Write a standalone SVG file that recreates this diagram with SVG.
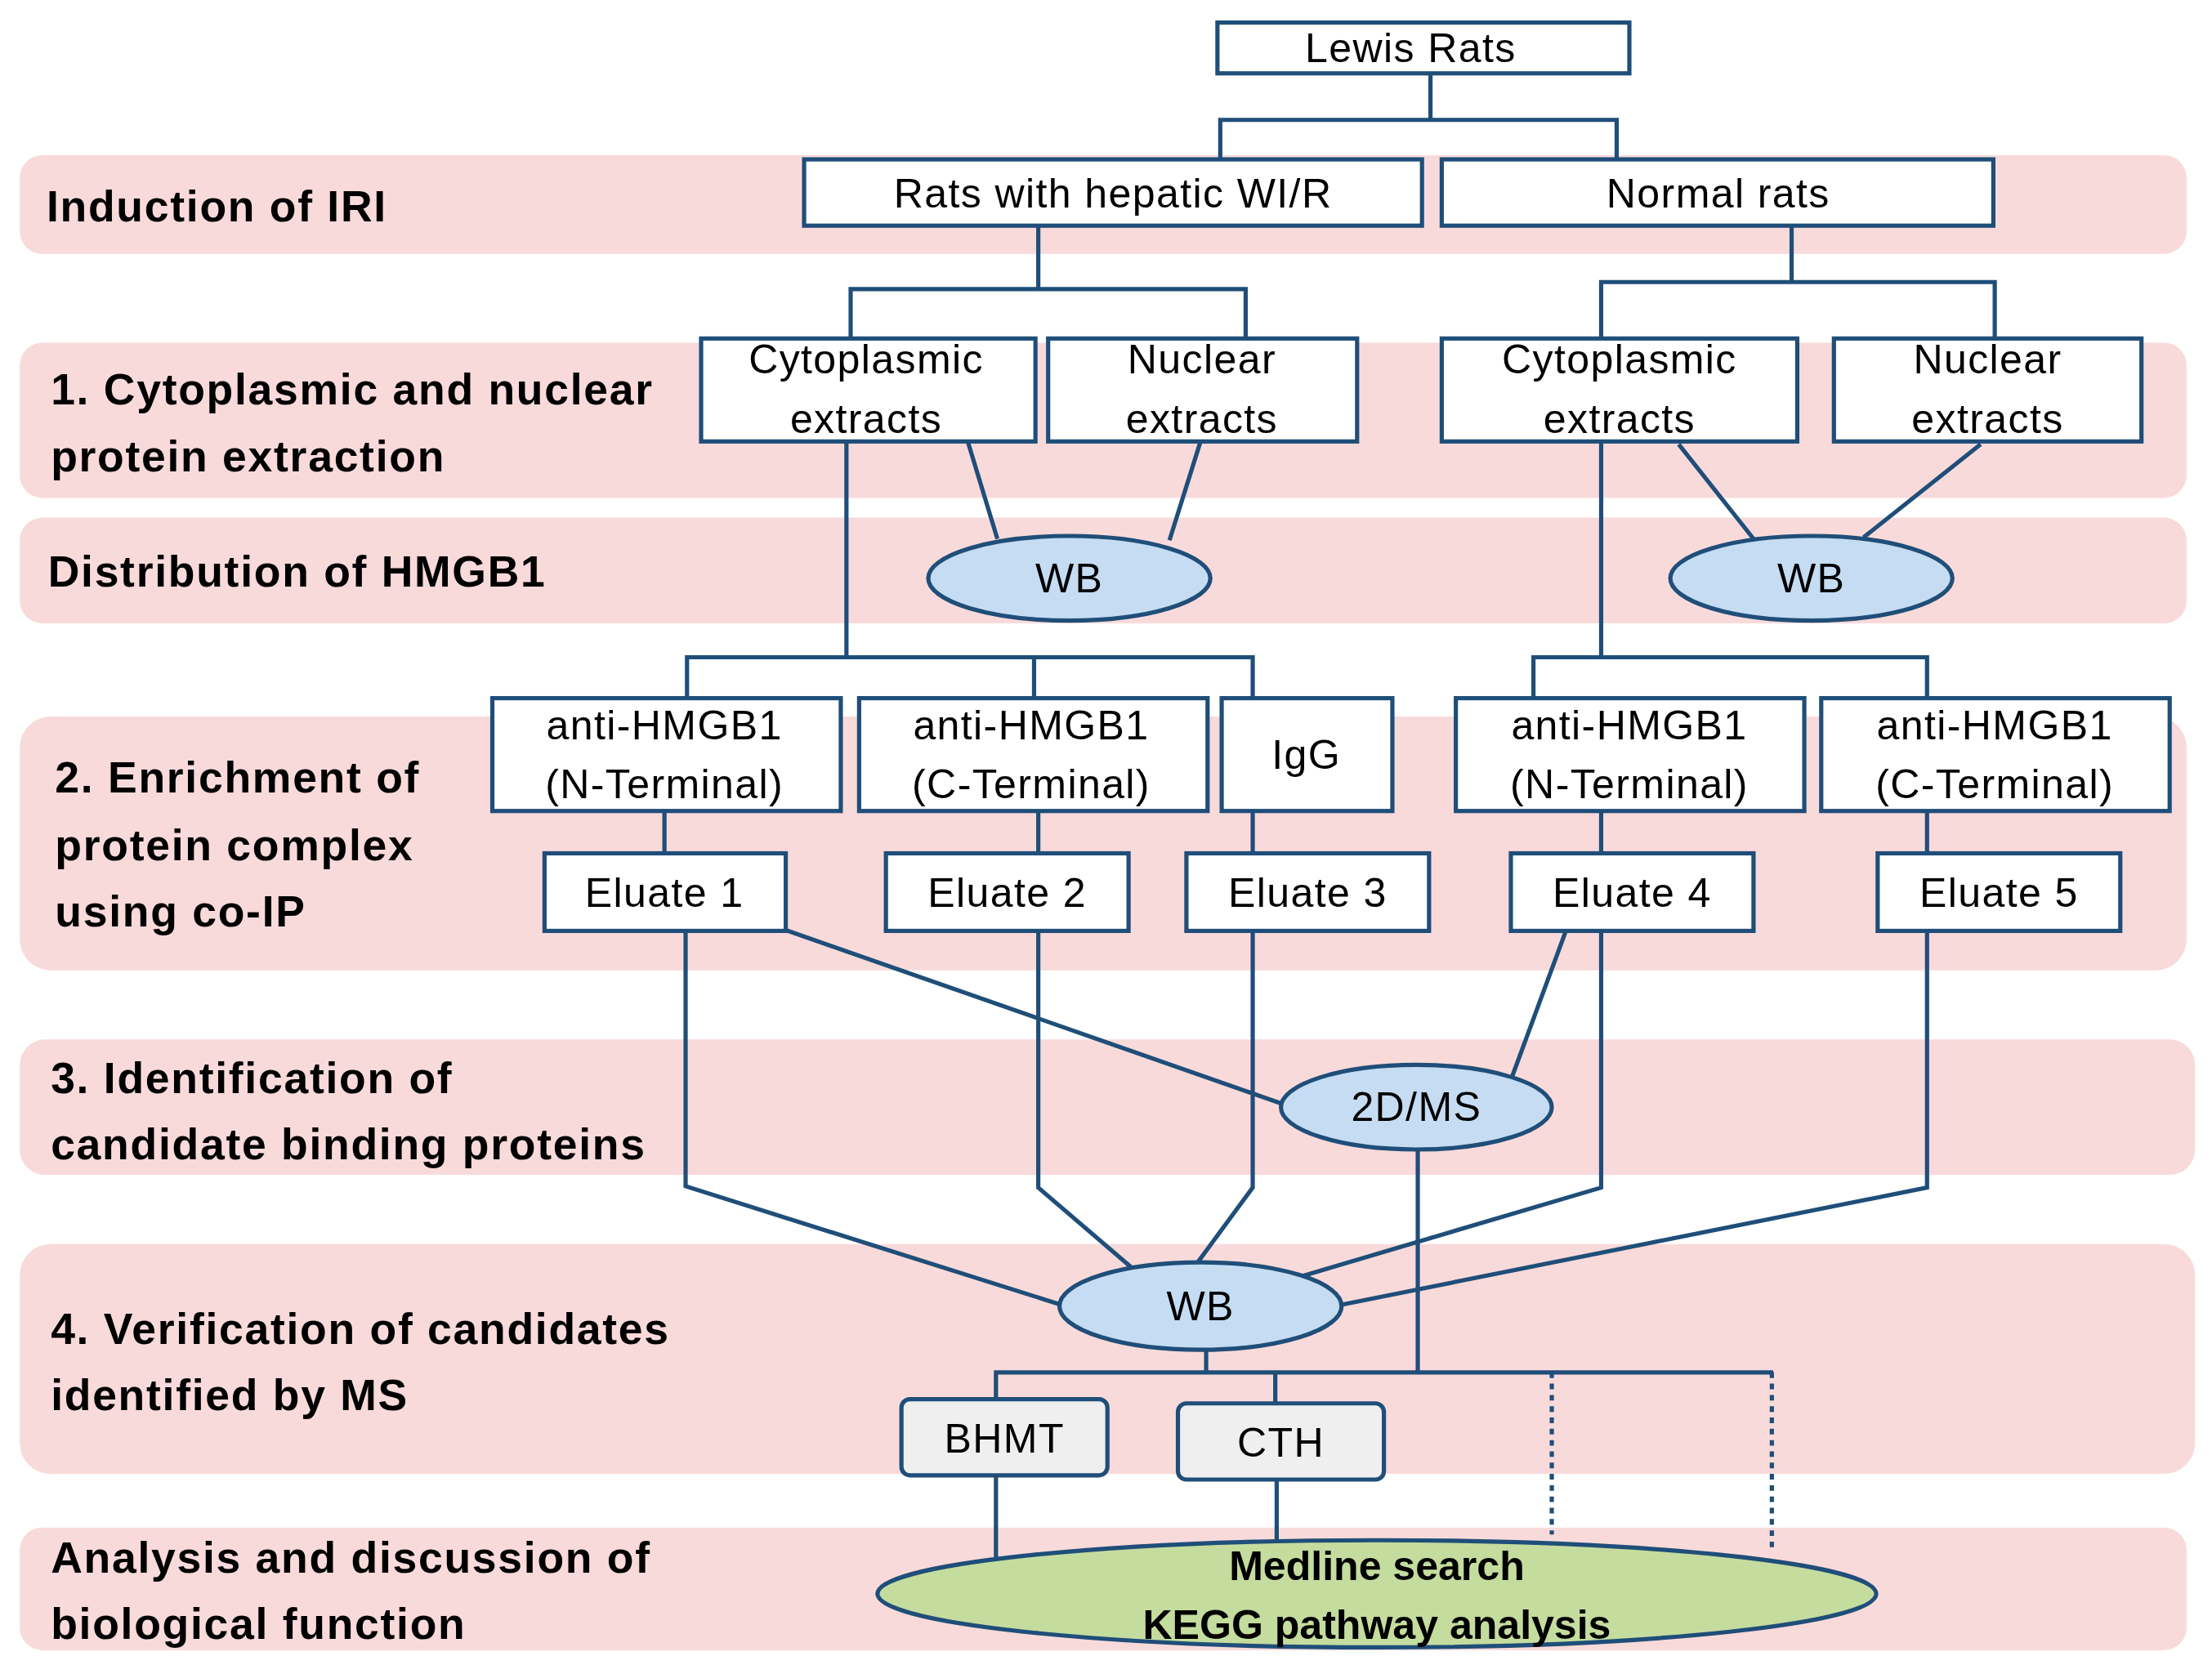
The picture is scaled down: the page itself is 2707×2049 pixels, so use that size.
<svg xmlns="http://www.w3.org/2000/svg" width="2707" height="2049" viewBox="0 0 2707 2049">
<style>
.band{fill:#f9dada}
.box{fill:#fff;stroke:#1f4e79;stroke-width:3}
.gbox{fill:#efefef;stroke:#1f4e79;stroke-width:3}
.ell{fill:#c5dcf2;stroke:#1f4e79;stroke-width:3}
.t{font-family:"Liberation Sans",Arial,sans-serif;font-size:29px;letter-spacing:0.8px;fill:#000;text-anchor:middle}
.b{font-family:"Liberation Sans",Arial,sans-serif;font-size:31px;letter-spacing:1px;font-weight:bold;fill:#000}
.c{fill:none;stroke:#1f4e79;stroke-width:3}
.d{fill:none;stroke:#1f4e79;stroke-width:3;stroke-dasharray:4 4}
</style>
<rect width="2707" height="2049" fill="#fff"/>
<g transform="scale(1.7264)">
<g id="bands">
<rect class="band" x="14" y="110" width="1536" height="70" rx="16"/>
<rect class="band" x="14" y="243" width="1536" height="110" rx="16"/>
<rect class="band" x="14" y="367" width="1536" height="75" rx="16"/>
<rect class="band" x="14" y="508" width="1536" height="180" rx="22"/>
<rect class="band" x="14" y="737" width="1542" height="96" rx="18"/>
<rect class="band" x="14" y="882" width="1542" height="163" rx="22"/>
<rect class="band" x="14" y="1083" width="1536" height="87" rx="16"/>
<text class="b" x="33" y="157">Induction of IRI</text>
<text class="b" x="36" y="287">1. Cytoplasmic and nuclear</text>
<text class="b" x="36" y="334">protein extraction</text>
<text class="b" x="34" y="416">Distribution of HMGB1</text>
<text class="b" x="39" y="562">2. Enrichment of</text>
<text class="b" x="39" y="610">protein complex</text>
<text class="b" x="39" y="657">using co-IP</text>
<text class="b" x="36" y="775">3. Identification of</text>
<text class="b" x="36" y="822">candidate binding proteins</text>
<text class="b" x="36" y="953">4. Verification of candidates</text>
<text class="b" x="36" y="1000">identified by MS</text>
<text class="b" x="36" y="1115">Analysis and discussion of</text>
<text class="b" x="36" y="1162">biological function</text>
</g>
<g id="connectors">
<path class="c" d="M1014 52V85M865 113V85H1146V113"/>
<path class="c" d="M736 160V205M603 240V205H883V240"/>
<path class="c" d="M1270 160V200M1135 240V200H1414V240"/>
<path class="c" d="M600 313V466M487 495V466H888V495M733 466V495"/>
<path class="c" d="M686 313L707 382M851 313L829 383"/>
<path class="c" d="M1135 313V466M1087 495V466H1366V495"/>
<path class="c" d="M1190 315L1243 382M1404 315L1321 381"/>
<path class="c" d="M471 575V605M736 575V605M888 575V605M1135 575V605M1366 575V605"/>
<path class="c" d="M486 660V841L752 925M553 658L910 783"/>
<path class="c" d="M736 660V842L806 902M888 660V842L849 895"/>
<path class="c" d="M1110 660L1072 763M1135 660V842L922 905M1366 660V842L951 925"/>
<path class="c" d="M1005 815V973M855 957V973M706 992V973H1257M904 973V995"/>
<path class="d" d="M1100 973V1088M1256 973V1100"/>
<path class="c" d="M706 1046V1104M905 1049V1092"/>
</g>
<g id="lewis"><rect class="box" x="863" y="16" width="292" height="36"/><text class="t" x="1000" y="44">Lewis Rats</text></g>
<g id="wir"><rect class="box" x="570" y="113" width="438" height="47"/><text class="t" x="789" y="147">Rats with hepatic WI/R</text></g>
<g id="normal"><rect class="box" x="1022" y="113" width="391" height="47"/><text class="t" x="1218" y="147">Normal rats</text></g>
<g id="cyto1"><rect class="box" x="497" y="240" width="237" height="73"/><text class="t" x="614" y="265">Cytoplasmic</text><text class="t" x="614" y="307">extracts</text></g>
<g id="nuc1"><rect class="box" x="743" y="240" width="219" height="73"/><text class="t" x="852" y="265">Nuclear</text><text class="t" x="852" y="307">extracts</text></g>
<g id="cyto2"><rect class="box" x="1022" y="240" width="252" height="73"/><text class="t" x="1148" y="265">Cytoplasmic</text><text class="t" x="1148" y="307">extracts</text></g>
<g id="nuc2"><rect class="box" x="1300" y="240" width="218" height="73"/><text class="t" x="1409" y="265">Nuclear</text><text class="t" x="1409" y="307">extracts</text></g>
<g id="wb1"><ellipse class="ell" cx="758" cy="410" rx="100" ry="30"/><text class="t" x="758" y="420">WB</text></g>
<g id="wb2"><ellipse class="ell" cx="1284" cy="410" rx="100" ry="30"/><text class="t" x="1284" y="420">WB</text></g>
<g id="ab1"><rect class="box" x="349" y="495" width="247" height="80"/><text class="t" x="471" y="524">anti-HMGB1</text><text class="t" x="471" y="566">(N-Terminal)</text></g>
<g id="ab2"><rect class="box" x="609" y="495" width="247" height="80"/><text class="t" x="731" y="524">anti-HMGB1</text><text class="t" x="731" y="566">(C-Terminal)</text></g>
<g id="igg"><rect class="box" x="866" y="495" width="121" height="80"/><text class="t" x="926" y="545">IgG</text></g>
<g id="ab4"><rect class="box" x="1032" y="495" width="247" height="80"/><text class="t" x="1155" y="524">anti-HMGB1</text><text class="t" x="1155" y="566">(N-Terminal)</text></g>
<g id="ab5"><rect class="box" x="1291" y="495" width="247" height="80"/><text class="t" x="1414" y="524">anti-HMGB1</text><text class="t" x="1414" y="566">(C-Terminal)</text></g>
<g id="el1"><rect class="box" x="386" y="605" width="171" height="55"/><text class="t" x="471" y="643">Eluate 1</text></g>
<g id="el2"><rect class="box" x="628" y="605" width="172" height="55"/><text class="t" x="714" y="643">Eluate 2</text></g>
<g id="el3"><rect class="box" x="841" y="605" width="172" height="55"/><text class="t" x="927" y="643">Eluate 3</text></g>
<g id="el4"><rect class="box" x="1071" y="605" width="172" height="55"/><text class="t" x="1157" y="643">Eluate 4</text></g>
<g id="el5"><rect class="box" x="1331" y="605" width="172" height="55"/><text class="t" x="1417" y="643">Eluate 5</text></g>
<g id="ms"><ellipse class="ell" cx="1004" cy="785" rx="96" ry="30"/><text class="t" x="1004" y="795">2D/MS</text></g>
<g id="wb3"><ellipse class="ell" cx="851" cy="926" rx="100" ry="31"/><text class="t" x="851" y="936">WB</text></g>
<g id="bhmt"><rect class="gbox" x="639" y="992" width="146" height="54" rx="6"/><text class="t" x="712" y="1030">BHMT</text></g>
<g id="cth"><rect class="gbox" x="835" y="995" width="146" height="54" rx="6"/><text class="t" x="908" y="1033">CTH</text></g>
<g id="medline"><ellipse cx="976" cy="1130" rx="354" ry="38" fill="#c4dc9e" stroke="#1f4e79" stroke-width="3"/><text class="t" x="976" y="1120" font-weight="bold" style="letter-spacing:0">Medline search</text><text class="t" x="976" y="1162" font-weight="bold" style="letter-spacing:0">KEGG pathway analysis</text></g>
</g>
</svg>
